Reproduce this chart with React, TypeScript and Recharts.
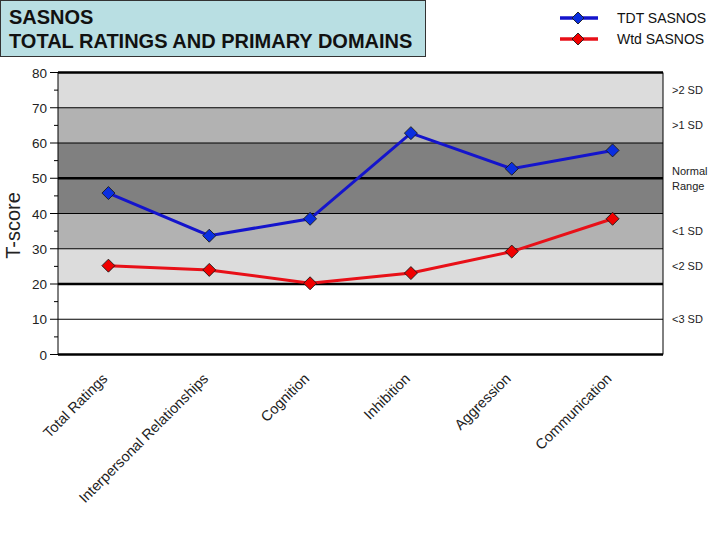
import React from 'react';
import {
    LineChart,
    Line,
    XAxis,
    YAxis,
    ReferenceArea,
    ReferenceLine
} from 'recharts';

const categories = [
    'Total Ratings',
    'Interpersonal Relationships',
    'Cognition',
    'Inhibition',
    'Aggression',
    'Communication'
];
const tdtScores = [45.8, 33.7, 38.5, 62.8, 52.7, 57.9];
const wtdScores = [25.2, 24.0, 20.2, 23.1, 29.2, 38.5];

const seriesNames = ['TDT SASNOS', 'Wtd SASNOS'];
const yTicks = [0, 5, 10, 15, 20, 25, 30, 35, 40, 45, 50, 55, 60, 65, 70, 75, 80];

// band ranges and the labels shown on the right
const bandLows = [70, 60, 40, 30, 20, 0];
const bandHighs = [80, 70, 60, 40, 30, 20];
const bandLabels = ['>2 SD', '>1 SD', 'Normal\nRange', '<1 SD', '<2 SD', '<3 SD'];
const bandFills = ['#dcdcdc', '#b2b2b2', '#808080', '#b2b2b2', '#dcdcdc', '#ffffff'];

const thickLines = [0, 20, 50, 80];
const thinLines = [10, 30, 40, 60, 70];

const COLORS = {
    tdtLine: '#1414cc',
    tdtDot: '#0a2ee0',
    wtdLine: '#e81018',
    wtdDot: '#f00000'
};

const chartData = categories.map((name, i) => ({
    idx: i,
    name,
    tdt: tdtScores[i],
    wtd: wtdScores[i]
}));

const FONT = 'Arial, "Liberation Sans", sans-serif';

const Diamond = (fill: string) => (props: any) => {
    const { cx, cy, index } = props;
    if (cx == null || cy == null) return <g key={index} />;
    const r = 6.5;
    return (
        <polygon
            key={index}
            points={`${cx},${cy - r} ${cx + r},${cy} ${cx},${cy + r} ${cx - r},${cy}`}
            fill={fill}
            stroke="#1a1a1a"
            strokeWidth={0.9}
        />
    );
};

const YTick = (props: any) => {
    const { x, y, payload } = props;
    const v = payload.value;
    const major = v % 10 === 0;
    return (
        <g>
            <line x1={x - (major ? 8 : 4)} x2={x} y1={y} y2={y} stroke="#000" strokeWidth={1} />
            {major && (
                <text x={x - 11} y={y + 5} textAnchor="end" fontSize={13.5} fontFamily={FONT} fill="#222">
                    {v}
                </text>
            )}
        </g>
    );
};

const XTick = (props: any) => {
    const { x, y, payload } = props;
    const label = categories[payload.value];
    return (
        <text
            transform={`translate(${x}, ${y + 25}) rotate(-45)`}
            textAnchor="end"
            fontSize={14.5}
            fontFamily={FONT}
            fill="#222"
        >
            {label}
        </text>
    );
};

const BandLabel = (text: string) => (props: any) => {
    const vb = props.viewBox;
    if (!vb) return null;
    const lines = text.split('\n');
    const tx = vb.x + vb.width + 9;
    const cy = vb.y + vb.height / 2;
    return (
        <text fontSize={11} fontFamily={FONT} fill="#222">
            {lines.map((l, i) => (
                <tspan key={i} x={tx} y={cy + 4 + (i - (lines.length - 1) / 2) * 15}>
                    {l}
                </tspan>
            ))}
        </text>
    );
};

const YTitle = (props: any) => {
    const vb = props.viewBox;
    const x = vb.x + 20;
    const y = vb.y + vb.height / 2 + 12;
    return (
        <text
            transform={`translate(${x}, ${y}) rotate(-90)`}
            textAnchor="middle"
            fontSize={20}
            fontFamily={FONT}
            fill="#222"
        >
            T-score
        </text>
    );
};

const LegendBox = () => {
    const items = [
        { name: seriesNames[0], line: COLORS.tdtLine, dot: COLORS.tdtDot },
        { name: seriesNames[1], line: COLORS.wtdLine, dot: COLORS.wtdDot }
    ];
    return (
        <svg width={170} height={54} style={{ position: 'absolute', left: 550, top: 0 }}>
            {items.map((it, i) => {
                const cy = 18 + i * 21;
                return (
                    <g key={it.name}>
                        <line x1={10} x2={48} y1={cy} y2={cy} stroke={it.line} strokeWidth={3.5} />
                        <polygon
                            points={`28,${cy - 6} 34,${cy} 28,${cy + 6} 22,${cy}`}
                            fill={it.dot}
                            stroke="#1a1a1a"
                            strokeWidth={0.9}
                        />
                        <text x={67} y={cy + 5} fontSize={14} fontFamily={FONT} fill="#111">
                            {it.name}
                        </text>
                    </g>
                );
            })}
        </svg>
    );
};

const App: React.FC = () => {
    return (
        <div style={{ position: 'absolute', left: 0, top: 0, width: 720, height: 540, background: '#fff' }}>
            <div
                style={{
                    position: 'absolute',
                    left: 0,
                    top: 0,
                    width: 426,
                    height: 57,
                    background: '#b9dfe3',
                    border: '1px solid #333',
                    fontFamily: FONT,
                    fontWeight: 'bold',
                    fontSize: 20,
                    lineHeight: '24px',
                    color: '#111',
                    padding: '4px 0 0 8px',
                    boxSizing: 'border-box'
                }}
            >
                <div>SASNOS</div>
                <div>TOTAL RATINGS AND PRIMARY DOMAINS</div>
            </div>
            <LegendBox />
            <div style={{ position: 'absolute', left: 0, top: 0 }}>
                <LineChart
                    width={720}
                    height={540}
                    data={chartData}
                    margin={{ top: 72.5, right: 57, left: 0, bottom: 35.5 }}
                >
                    <XAxis
                        dataKey="idx"
                        type="number"
                        domain={[-0.5, 5.5]}
                        ticks={[0, 1, 2, 3, 4, 5]}
                        tick={<XTick />}
                        tickLine={false}
                        axisLine={false}
                        tickSize={0}
                        tickMargin={0}
                        height={150}
                        interval={0}
                    />
                    <YAxis
                        width={58}
                        domain={[0, 80]}
                        ticks={yTicks}
                        interval={0}
                        tick={<YTick />}
                        tickLine={false}
                        tickSize={0}
                        tickMargin={0}
                        axisLine={{ stroke: '#000', strokeWidth: 1 }}
                        label={{ content: YTitle }}
                    />
                    {bandLows.map((lo, i) => (
                        <ReferenceArea
                            key={`band-${i}`}
                            y1={lo}
                            y2={bandHighs[i]}
                            fill={bandFills[i]}
                            fillOpacity={1}
                            stroke="none"
                            label={{ content: BandLabel(bandLabels[i]) }}
                        />
                    ))}
                    {thinLines.map(v => (
                        <ReferenceLine key={`thin-${v}`} y={v} stroke="#000" strokeWidth={1.2} />
                    ))}
                    {thickLines.map(v => (
                        <ReferenceLine key={`thick-${v}`} y={v} stroke="#000" strokeWidth={2.6} />
                    ))}
                    <ReferenceLine x={5.5} stroke="#000" strokeWidth={1} />
                    <Line
                        dataKey="tdt"
                        name={seriesNames[0]}
                        stroke={COLORS.tdtLine}
                        strokeWidth={3}
                        dot={Diamond(COLORS.tdtDot)}
                        activeDot={false}
                        isAnimationActive={false}
                    />
                    <Line
                        dataKey="wtd"
                        name={seriesNames[1]}
                        stroke={COLORS.wtdLine}
                        strokeWidth={3}
                        dot={Diamond(COLORS.wtdDot)}
                        activeDot={false}
                        isAnimationActive={false}
                    />
                </LineChart>
            </div>
        </div>
    );
};

export default App;
